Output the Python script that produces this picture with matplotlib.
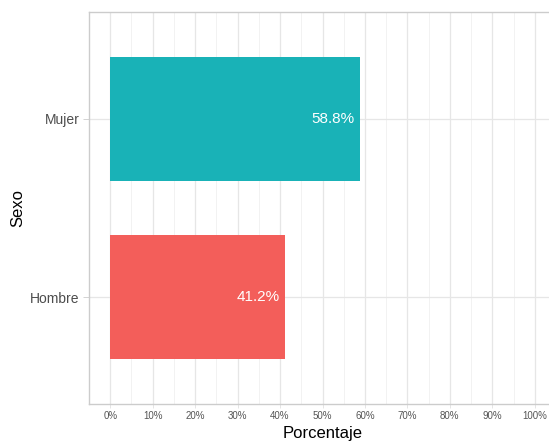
import matplotlib
matplotlib.use("Agg")
import matplotlib.pyplot as plt
import numpy as np

plt.rcParams['font.family'] = ['Liberation Sans', 'DejaVu Sans']

# data
categories = ["Hombre", "Mujer"]
percentages = [41.2, 58.8]
bar_colors = ["#F35E5A", "#19B2B7"]
x_ticks = list(range(0, 101, 10))

fig = plt.figure(figsize=(5.49, 4.41), dpi=100)
ax = fig.add_axes([89 / 549, 37 / 441, 467 / 549, 392 / 441])

ypos = np.arange(1, len(categories) + 1)
ax.barh(ypos, percentages, height=0.7, color=bar_colors, zorder=3)

#value labels inside the bars
for y0, v in zip(ypos, percentages):
    ax.text(v - 1.3, y0, f"{v:.1f}%", ha="right", va="center",
            color="white", fontsize=11, zorder=4)

ax.set_xlim(-5, 105)
ax.set_ylim(0.4, 2.6)
ax.set_xticks(x_ticks)
ax.set_xticklabels([f"{t}%" for t in x_ticks])
ax.set_xticks(np.arange(5, 101, 10), minor=True)
ax.set_yticks(ypos)
ax.set_yticklabels(categories)

#grid like ggplot theme_light
ax.grid(which="major", color="#E6E6E6", linewidth=0.9, zorder=0)
ax.grid(which="minor", axis="x", color="#F0F0F0", linewidth=0.6, zorder=0)
for s in ax.spines.values():
    s.set_color("#CCCCCC")
    s.set_linewidth(1.0)

ax.tick_params(axis="x", which="major", labelsize=7, colors="#E0E0E0",
               labelcolor="#555555", length=3, width=0.6, pad=2)
ax.tick_params(axis="x", which="minor", length=0)
ax.tick_params(axis="y", labelsize=10, colors="#CCCCCC",
               labelcolor="#4D4D4D", length=4, width=0.6, pad=3)

ax.set_xlabel("Porcentaje", fontsize=12)
ax.set_ylabel("Sexo", fontsize=12)
ax.xaxis.set_label_coords(0.5, -0.057)
ax.yaxis.set_label_coords(-0.137, 0.5)

fig.savefig("out.png", dpi=100)
